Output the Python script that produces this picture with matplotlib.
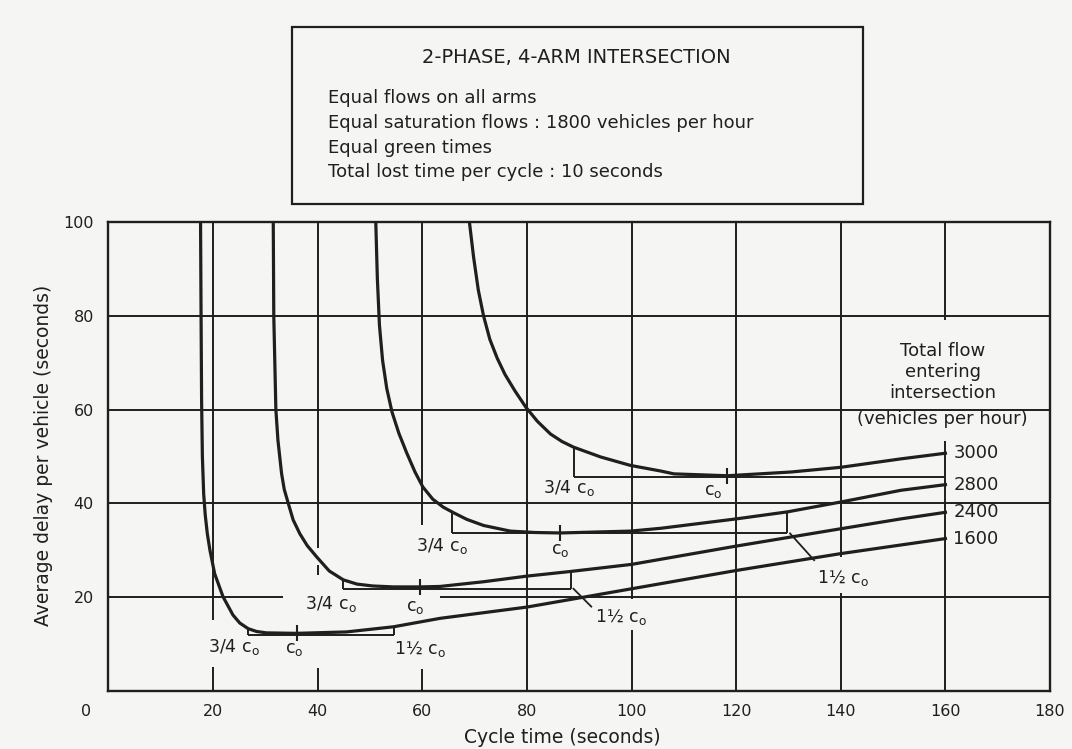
import numpy as np
import matplotlib.pyplot as plt
from matplotlib.patches import Rectangle

# delay curves (cycle time s, average delay s)
flows = [1600, 2400, 2800, 3000]

cycle_1600 = [17.6, 17.7, 17.8, 17.95, 18.2, 18.5, 18.9, 19.4, 20.3, 21.9, 23.8, 25.1,
              26.7, 28.3, 30.2, 36.0, 45.5, 54.5, 63.4, 80.0, 100.0, 120.0, 140.0, 160.0]
delay_1600 = [100, 80, 62, 50, 42.0, 37.5, 33.5, 30.0, 25.0, 20.1, 16.2, 14.5,
              13.3, 12.7, 12.4, 12.3, 12.6, 13.7, 15.5, 17.9, 21.8, 25.7, 29.3, 32.5]

cycle_2400 = [31.5, 31.6, 32.0, 32.4, 33.1, 33.6, 34.4, 35.3, 36.6, 38.0, 39.8, 42.2,
              44.9, 47.5, 50.5, 54.5, 59.6, 63.4, 71.7, 80.0, 88.4, 100.0, 120.0, 140.0,
              151.5, 160.0]
delay_2400 = [100, 80, 60, 53.4, 46.3, 43.0, 39.9, 36.5, 33.5, 31.0, 28.6, 25.6,
              23.7, 22.8, 22.4, 22.2, 22.2, 22.3, 23.3, 24.5, 25.5, 27.0, 30.9, 34.6,
              36.7, 38.1]

cycle_2800 = [51.1, 51.4, 51.8, 52.4, 53.2, 54.2, 55.5, 57.0, 58.6, 60.1, 62.0, 64.0,
              66.0, 68.5, 71.7, 76.8, 81.5, 86.4, 99.8, 105.6, 120.0, 129.8, 140.0, 151.5,
              160.0]
delay_2800 = [100, 88, 78, 70.5, 64.5, 59.5, 55.0, 50.8, 46.7, 43.5, 40.9, 39.2,
              38.0, 36.6, 35.3, 34.1, 33.8, 33.7, 34.1, 34.7, 36.7, 38.2, 40.3, 42.8,
              44.0]

cycle_3000 = [69.0, 69.8, 70.7, 71.7, 72.9, 74.3, 75.8, 77.7, 79.8, 82.0, 84.5, 86.7,
              88.9, 94.1, 99.8, 105.6, 108.1, 118.3, 130.5, 140.0, 151.5, 160.0]
delay_3000 = [100, 92.5, 85.5, 80.0, 75.0, 71.0, 67.5, 64.0, 60.5, 57.5, 54.8, 53.2,
              52.0, 49.9, 48.1, 46.9, 46.3, 45.9, 46.7, 47.7, 49.5, 50.7]

# optimum-cycle markers: 3/4 c_o, c_o, end of bracket (1 1/2 c_o, or chart edge for 3000)
c_three_quarter = [26.7, 44.9, 65.6, 88.9]
c_opt = [36.0, 59.5, 86.4, 118.3]
bracket_end = [54.5, 88.4, 129.8, 160.0]
bracket_level = [11.9, 21.8, 33.6, 45.7]

x_ticks = [20, 40, 60, 80, 100, 120, 140, 160, 180]
y_ticks = [20, 40, 60, 80, 100]

box_title = '2-PHASE, 4-ARM INTERSECTION'
box_lines = ['Equal flows on all arms',
             'Equal saturation flows : 1800 vehicles per hour',
             'Equal green times',
             'Total lost time per cycle : 10 seconds']
flow_title = ['Total flow', 'entering', 'intersection', '(vehicles per hour)']

curves = [(cycle_1600, delay_1600), (cycle_2400, delay_2400),
          (cycle_2800, delay_2800), (cycle_3000, delay_3000)]

INK = '#1f1f1f'
PAPER = '#f5f5f3'
plt.rcParams['font.family'] = ['DejaVu Sans']

# gridlines are broken where the labels sit, as in the drawing
vgrid = {20: [(0, 5.2), (15.1, 100)], 40: [(0, 5.0), (24.7, 26.8), (30.5, 100)],
         60: [(0, 4.8), (35.5, 100)], 80: [(0, 100)], 100: [(0, 13.0), (19.7, 100)],
         120: [(0, 100)], 140: [(0, 20.8), (28.6, 100)], 160: [(0, 53.4), (79.0, 100)]}
hgrid = {20: [(0, 33.4), (63.4, 180)], 40: [(0, 180)], 60: [(0, 180)], 80: [(0, 180)]}

# label placement (data coords)
lab_q = [(24.0, 9.3), (42.5, 18.5), (63.7, 31.0), (88.0, 43.3)]
lab_c = [(35.5, 9.0), (58.6, 18.0), (86.4, 30.0), (115.6, 42.6)]
lab_h = [(59.5, 9.0), (98.0, 15.8), (140.5, 24.2), None]
leader_to = [None, (92.3, 18.0), (134.9, 27.9), None]


def curve_at(xs, ys, x):
    xs = np.asarray(xs)
    ys = np.asarray(ys)
    i = int(np.argmin(ys))
    if x <= xs[i]:
        return np.interp(x, xs[:i + 1], ys[:i + 1])
    return np.interp(x, xs[i:], ys[i:])


fig = plt.figure(figsize=(10.72, 7.49), dpi=100, facecolor=PAPER)
ax = fig.add_axes([0.1012, 0.0774, 0.8783, 0.6262], facecolor=PAPER)
ax.set_xlim(0, 180)
ax.set_ylim(0, 100)

for x, spans in vgrid.items():
    for lo, hi in spans:
        ax.vlines(x, lo, hi, color=INK, lw=1.4, zorder=1)
for y, spans in hgrid.items():
    for lo, hi in spans:
        ax.hlines(y, lo, hi, color=INK, lw=1.4, zorder=1)

co = r'c$_\mathregular{o}$'
for k, (xs, ys) in enumerate(curves):
    ax.plot(xs, ys, color=INK, lw=2.3, solid_joinstyle='round', zorder=3)

    lvl = bracket_level[k]
    q, c, e = c_three_quarter[k], c_opt[k], bracket_end[k]
    ax.hlines(lvl, q, e, color=INK, lw=1.4, zorder=2)
    ax.vlines(q, lvl, curve_at(xs, ys, q), color=INK, lw=1.4, zorder=2)
    if k < 3:
        ax.vlines(e, lvl, curve_at(xs, ys, e), color=INK, lw=1.4, zorder=2)
    yc = curve_at(xs, ys, c)
    ax.vlines(c, yc - 1.7, yc + 1.7, color=INK, lw=1.5, zorder=2)

    ax.text(*lab_q[k], '3/4 ' + co, ha='center', va='center', fontsize=12.5, color=INK)
    ax.text(*lab_c[k], co, ha='center', va='center', fontsize=12.5, color=INK)
    if lab_h[k] is not None:
        ax.text(*lab_h[k], '1½ ' + co, ha='center', va='center', fontsize=12.5, color=INK)
    if leader_to[k] is not None:
        ax.plot([e + 0.5, leader_to[k][0]], [lvl, leader_to[k][1]], color=INK, lw=1.3)

    ax.text(161.5, ys[-1], str(flows[k]), ha='left', va='center', fontsize=13, color=INK)

for line, y in zip(flow_title, [72.6, 68.1, 63.6, 58.1]):
    ax.text(159.5, y, line, ha='center', va='center', fontsize=13, color=INK)

ax.set_xticks(x_ticks)
ax.set_yticks(y_ticks)
ax.tick_params(length=0, labelsize=11.5, colors=INK)
ax.tick_params(axis='x', pad=9.5)
ax.tick_params(axis='y', pad=10.5)
ax.text(-4.3, -4.3, '0', ha='center', va='center', fontsize=11.5, color=INK, clip_on=False)
for s in ax.spines.values():
    s.set_linewidth(1.7)
    s.set_color(INK)

fig.text(0.525, 0.0147, 'Cycle time (seconds)', ha='center', va='center',
         fontsize=13.5, color=INK)
fig.text(0.041, 0.392, 'Average delay per vehicle (seconds)', ha='center', va='center',
         rotation=90, fontsize=13.5, color=INK)

# note box above the chart
fig.patches.append(Rectangle((0.2724, 0.7276), 0.5326, 0.2363, transform=fig.transFigure,
                             fill=False, lw=1.6, ec=INK))
fig.text(0.538, 0.9226, box_title, ha='center', va='center', fontsize=14, color=INK)
for line, y in zip(box_lines, [0.8692, 0.8358, 0.8024, 0.7704]):
    fig.text(0.306, y, line, ha='left', va='center', fontsize=13, color=INK)

fig.savefig('out.png', dpi=100, facecolor=PAPER)
